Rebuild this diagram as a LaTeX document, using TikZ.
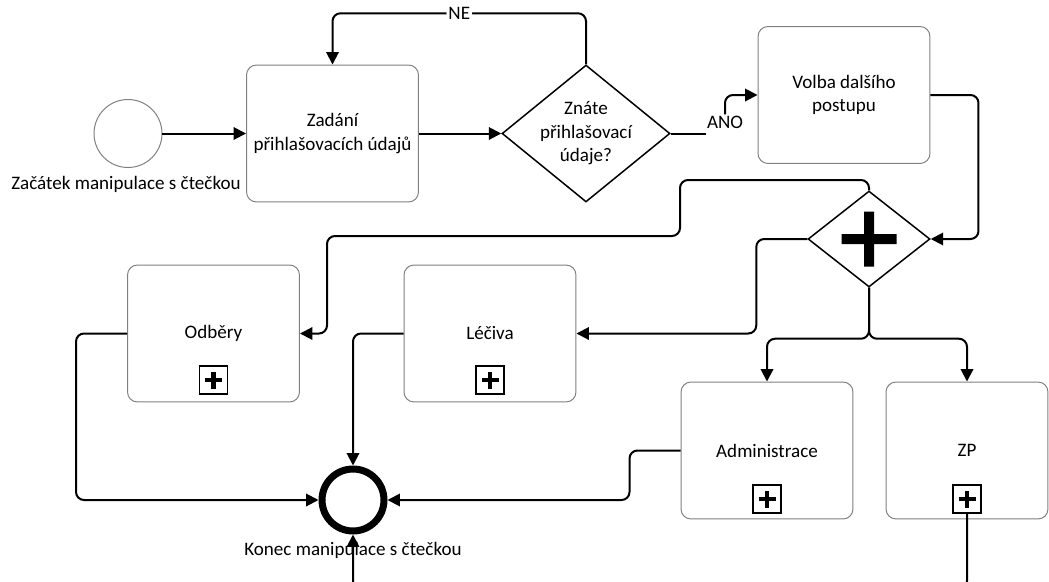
\documentclass[tikz,border=0pt]{standalone}
\usepackage{fontspec}
\setmainfont{Carlito}
\usetikzlibrary{shapes.geometric,arrows.meta}
\definecolor{boxgray}{RGB}{128,128,128}
\begin{document}
\begin{tikzpicture}[x=0.02cm,y=-0.02cm,
  font=\fontsize{10.85pt}{13.4pt}\selectfont,
  task/.style={draw=boxgray, line width=0.02cm, rounded corners=0.2cm,
    minimum width=3.44cm, minimum height=2.74cm, align=center, inner sep=0pt},
  gate/.style={draw, diamond, line width=0.03cm, inner sep=0pt},
  flow/.style={line width=0.04cm, rounded corners=0.16cm,
    -{Triangle[length=0.25cm,width=0.25cm]}},
  plain/.style={line width=0.04cm, rounded corners=0.16cm},
  lbl/.style={fill=white, inner sep=0.04cm},
  marker/.style={draw, line width=0.03cm, minimum size=0.56cm, inner sep=0pt,
    path picture={\draw[line width=0.09cm]
      ([xshift=-0.17cm]path picture bounding box.center) -- ([xshift=0.17cm]path picture bounding box.center)
      ([yshift=-0.17cm]path picture bounding box.center) -- ([yshift=0.17cm]path picture bounding box.center);}},
]
\useasboundingbox (0,0) rectangle (1049,582);
\clip (0,0) rectangle (1049,582);

% events
\node[circle, draw=boxgray, line width=0.02cm, minimum size=1.36cm, inner sep=0pt] (start) at (128,133.5) {};
\node (startlbl) at (126,184) {Začátek manipulace s čtečkou};
\node[circle, draw, line width=0.14cm, minimum size=1.24cm, inner sep=0pt] (endc) at (353,500) {};
\node (endlbl) at (353,550) {Konec manipulace s čtečkou};

% tasks
\node[task] (zad) at (332.5,133.5) {Zadání\\přihlašovacích údajů};
\node[task] (volba) at (844,95) {Volba dalšího\\postupu};
\node[task] (odb) at (213.5,333.5) {Odběry};
\node[marker] (odbm) at (213.5,380) {};
\node[task] (lec) at (490,333.5) {Léčiva};
\node[marker] (lecm) at (490,380) {};
\node[task] (adm) at (767,450.5) {Administrace};
\node[marker] (admm) at (767,499) {};
\node[task, minimum width=3.24cm] (zp) at (967,450.5) {ZP};
\node[marker] (zpm) at (967,499) {};

% gateways
\node[gate, minimum width=3.36cm, minimum height=2.74cm] (d1) at (586,133.5) {};
\node[align=center, inner sep=0pt] (d1txt) at (d1.center) {Znáte\\přihlašovací\\údaje?};
\node[gate, minimum width=2.44cm, minimum height=1.92cm,
  path picture={\fill (path picture bounding box.center) +(-0.55cm,-0.1cm) rectangle +(0.55cm,0.1cm)
                      (path picture bounding box.center) +(-0.1cm,-0.55cm) rectangle +(0.1cm,0.55cm);}]
  (gw) at (869,239) {};

% sequence flows
\draw[flow] (start.east) -- (zad.west);
\draw[flow] (zad.east) -- (d1.west);
\draw[flow] (d1.north) -- ++(0,-51) -| node[lbl, pos=0.25] {NE} (zad.north);
\node[inner sep=0.02cm] (ano) at (725,122) {ANO};
\draw[plain] (d1.east) -- (d1.east -| ano.west);
\draw[flow] (ano.north) |- (volba.west);
\draw[flow] (volba.east) -- ++(48,0) |- (gw.east);
\draw[flow] (gw.north) |- (680,180) |- (327,236) |- (odb.east);
\draw[flow] (gw.west) -- ++(-51,0) |- (lec.east);
\draw[flow] (gw.south) -- ++(0,51) -| (adm.north);
\draw[flow] (gw.south) -- ++(0,51) -| (zp.north);
\draw[flow] (odb.west) -- ++(-51,0) |- (endc.west);
\draw[flow] (lec.west) -| (endc.north);
\draw[flow] (adm.west) -- ++(-51,0) |- (endc.east);
\draw[flow] (zpm.south) -- ++(0,75) -| (endc.south);
\end{tikzpicture}
\end{document}
